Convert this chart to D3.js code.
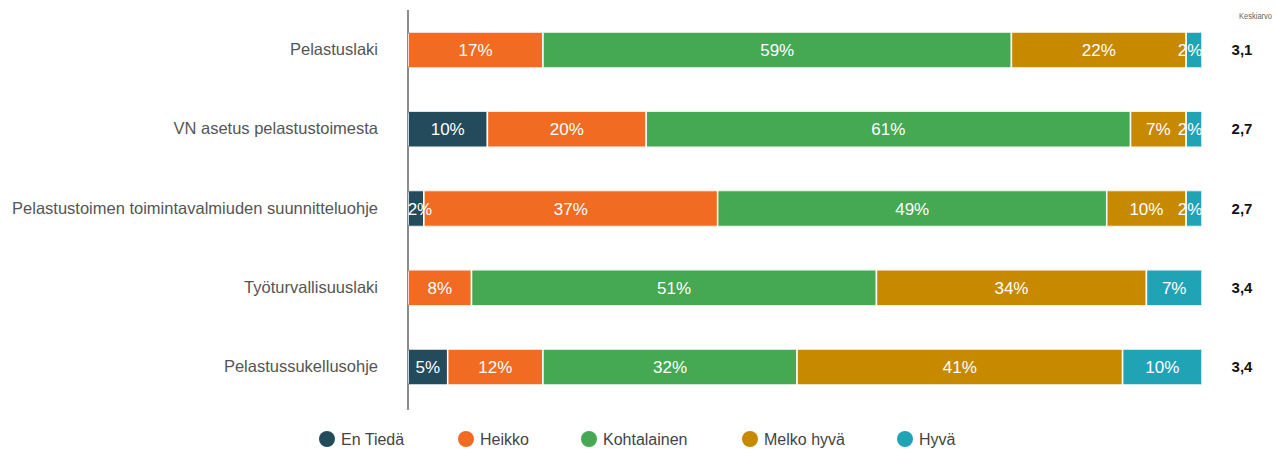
<!DOCTYPE html>
<html lang="en">
<head>
<meta charset="utf-8">
<title>Keskiarvo</title>
<script src="https://cdn.jsdelivr.net/npm/d3@7"></script>
<style>
  body { margin: 0; background: #fff; }
  text { font-family: "Liberation Sans", Arial, sans-serif; }
  .cat { font-size: 16.5px; fill: #555; }
  .pct { font-size: 17px; fill: #fff; }
  .avg { font-size: 15px; font-weight: bold; fill: #111; }
  .leg { font-size: 16px; fill: #444; }
</style>
</head>
<body>
<svg width="1276" height="452"></svg>
<script>
const categories = ["Pelastuslaki", "VN asetus pelastustoimesta", "Pelastustoimen toimintavalmiuden suunnitteluohje", "Työturvallisuuslaki", "Pelastussukellusohje"];
const seriesNames = ["En Tiedä", "Heikko", "Kohtalainen", "Melko hyvä", "Hyvä"];
const colors = ["#234b5b", "#f26b23", "#45a853", "#c68900", "#21a3b6"];
const enTieda    = [0, 10, 2, 0, 5];
const heikko     = [17, 20, 37, 8, 12];
const kohtalainen= [59, 61, 49, 51, 32];
const melkoHyva  = [22, 7, 10, 34, 41];
const hyva       = [2, 2, 2, 7, 10];
const averages = ["3,1", "2,7", "2,7", "3,4", "3,4"];

const svg = d3.select("svg");
const x = d3.scaleLinear().domain([0, 100]).range([408, 1202]);
const y = d3.scalePoint().domain(categories).range([50, 367]);
const color = d3.scaleOrdinal().domain(seriesNames).range(colors);
const barH = 36;

const rows = categories.map((c, i) => {
  const vals = [enTieda[i], heikko[i], kohtalainen[i], melkoHyva[i], hyva[i]];
  let acc = 0;
  const segs = vals.map((v, j) => { const s = { name: seriesNames[j], v, x0: acc, x1: acc + v }; acc += v; return s; });
  return { cat: c, segs, total: acc, avg: averages[i] };
});

// axis line
svg.append("line")
  .attr("x1", x(0)).attr("x2", x(0))
  .attr("y1", 10).attr("y2", 410)
  .attr("stroke", "#666").attr("stroke-width", 1.5);

const defs = svg.append("defs");
rows.forEach((r, i) => {
  defs.append("clipPath").attr("id", "clip" + i)
    .append("rect")
    .attr("x", x(0)).attr("y", y(r.cat) - barH / 2)
    .attr("width", x(r.total) - x(0)).attr("height", barH)
    .attr("rx", 3);
});

const g = svg.selectAll("g.row").data(rows).enter().append("g")
  .attr("class", "row");

g.append("g").attr("clip-path", (d, i) => "url(#clip" + i + ")")
  .selectAll("rect").data(d => d.segs.filter(s => s.v > 0).map(s => ({ ...s, cat: d.cat })))
  .enter().append("rect")
  .attr("x", s => x(s.x0)).attr("y", s => y(s.cat) - barH / 2)
  .attr("width", s => x(s.x1) - x(s.x0)).attr("height", barH)
  .attr("fill", s => color(s.name))
  .attr("stroke", "#fff").attr("stroke-width", 1.5);

g.selectAll("text.pct").data(d => d.segs.filter(s => s.v > 0).map(s => ({ ...s, cat: d.cat })))
  .enter().append("text")
  .attr("class", "pct")
  .attr("x", s => (x(s.x0) + x(s.x1)) / 2 - (s.v <= 2 && s.x0 > 50 ? 4 : 0) + (s.v <= 2 && s.x0 < 50 ? 4 : 0))
  .attr("y", s => y(s.cat) + 6)
  .attr("text-anchor", "middle")
  .text(s => s.v + "%");

g.append("text").attr("class", "cat")
  .attr("x", 378).attr("y", d => y(d.cat) + 5)
  .attr("text-anchor", "end")
  .text(d => d.cat);

g.append("text").attr("class", "avg")
  .attr("x", 1242).attr("y", d => y(d.cat) + 5)
  .attr("text-anchor", "middle")
  .text(d => d.avg);

svg.append("text")
  .attr("x", 1239).attr("y", 19)
  .attr("font-size", 8.5).attr("fill", "#666")
  .attr("textLength", 33).attr("lengthAdjust", "spacingAndGlyphs")
  .text("Keskiarvo");

// legend
const legX = [327, 466, 589, 750, 905];
const leg = svg.selectAll("g.leg").data(seriesNames).enter().append("g")
  .attr("transform", (d, i) => `translate(${legX[i]},439)`);
leg.append("circle").attr("r", 8).attr("fill", d => color(d));
leg.append("text").attr("class", "leg").attr("x", 14).attr("y", 5.5).text(d => d);
</script>
</body>
</html>
